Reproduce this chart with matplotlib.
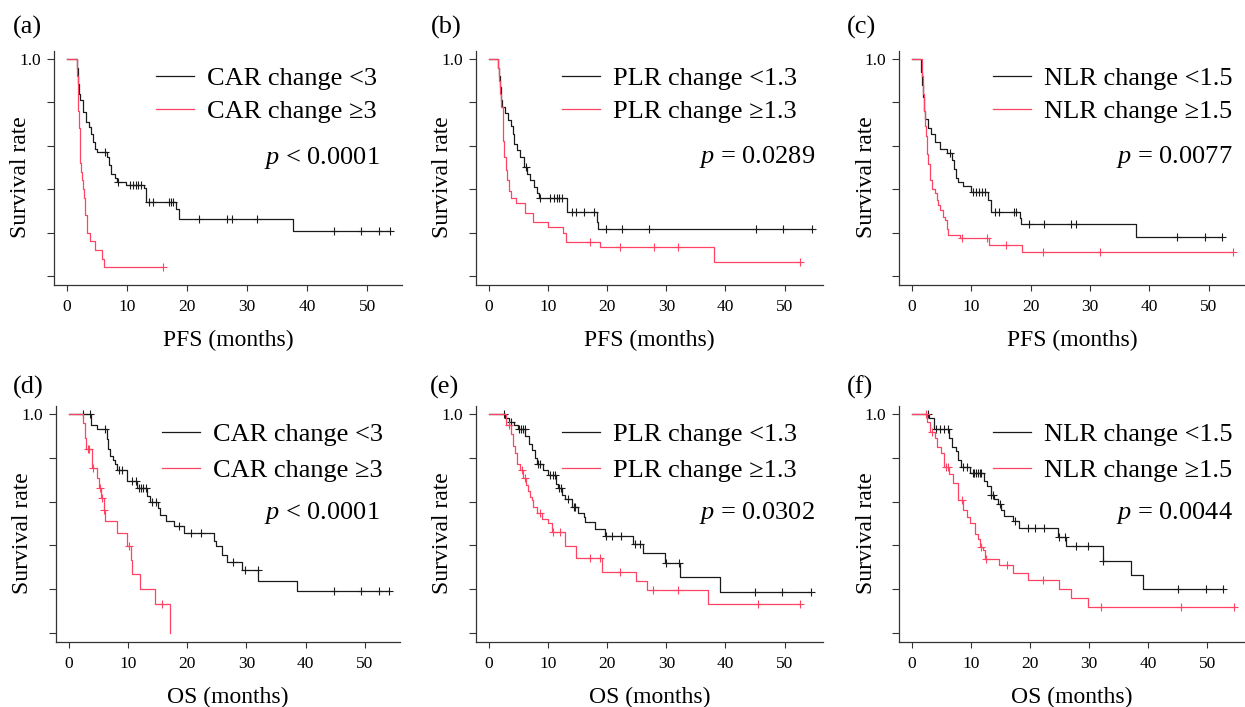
import numpy as np
import matplotlib.pyplot as plt

plt.rcParams['font.family'] = ['Liberation Serif', 'DejaVu Serif']
plt.rcParams['mathtext.fontset'] = 'custom'
plt.rcParams['mathtext.rm'] = 'Liberation Serif'
plt.rcParams['mathtext.it'] = 'Liberation Serif:italic'

# ---- (a) CAR change, PFS ----
a_lo_t = [0, 1.6, 1.8, 2.0, 2.2, 2.6, 3.2, 3.7, 4.0, 4.3, 4.7, 5.0, 6.7, 7.0, 7.4, 8.0, 8.4, 9.9, 12.9, 13.2, 18.1, 18.7, 37.6]
a_lo_s = [1.0, 0.96, 0.886, 0.84, 0.81, 0.756, 0.71, 0.687, 0.656, 0.618, 0.587, 0.572, 0.55, 0.51, 0.472, 0.45, 0.434, 0.42, 0.405, 0.342, 0.31, 0.262, 0.209]
a_lo_c = [6.3, 8.5, 10.5, 11.0, 11.5, 11.9, 12.3, 13.7, 14.4, 17.0, 17.4, 17.7, 22.0, 26.7, 27.5, 31.6, 44.4, 49.0, 51.9, 53.8]
a_hi_t = [0, 1.7, 1.8, 1.9, 2.0, 2.1, 2.2, 2.35, 2.5, 2.65, 2.8, 3.0, 3.3, 3.8, 4.6, 5.8, 6.1]
a_hi_s = [1.0, 0.92, 0.84, 0.76, 0.68, 0.6, 0.52, 0.48, 0.44, 0.40, 0.36, 0.28, 0.20, 0.16, 0.12, 0.08, 0.04]
a_hi_c = [16.0]

# ---- (b) PLR change, PFS ----
b_lo_t = [0, 1.6, 1.75, 1.9, 2.0, 2.2, 2.7, 3.2, 3.7, 4.0, 4.2, 4.8, 5.2, 6.0, 6.5, 7.0, 7.6, 8.1, 8.5, 13.2, 18.2, 18.5]
b_lo_s = [1.0, 0.96, 0.92, 0.87, 0.81, 0.78, 0.75, 0.72, 0.69, 0.655, 0.61, 0.58, 0.55, 0.50, 0.47, 0.44, 0.41, 0.38, 0.357, 0.295, 0.25, 0.214]
b_lo_c = [6.3, 8.6, 10.4, 11.0, 11.5, 11.9, 12.4, 14.0, 14.7, 16.1, 17.7, 19.8, 22.5, 27.0, 45.1, 49.8, 54.6]
b_hi_t = [0, 1.5, 1.7, 1.9, 2.1, 2.3, 2.45, 2.6, 2.8, 3.0, 3.3, 3.8, 4.6, 6.1, 7.5, 10.0, 12.5, 13.1, 18.8, 38.0]
b_hi_s = [1.0, 0.96, 0.90, 0.84, 0.78, 0.70, 0.62, 0.55, 0.49, 0.44, 0.39, 0.358, 0.335, 0.29, 0.25, 0.224, 0.20, 0.158, 0.132, 0.066]
b_hi_c = [17.1, 22.2, 27.9, 31.9, 52.6]

# ---- (c) NLR change, PFS ----
c_lo_t = [0, 1.5, 1.7, 1.9, 2.1, 2.3, 2.8, 3.3, 3.9, 4.7, 6.0, 6.8, 7.2, 7.5, 7.8, 8.6, 10.0, 12.8, 13.4, 18.2, 18.4, 37.7]
c_lo_s = [1.0, 0.94, 0.88, 0.824, 0.76, 0.724, 0.68, 0.655, 0.617, 0.587, 0.567, 0.533, 0.495, 0.45, 0.433, 0.415, 0.387, 0.35, 0.296, 0.265, 0.237, 0.178]
c_lo_c = [6.4, 10.4, 10.9, 11.4, 11.8, 12.3, 14.1, 14.7, 17.2, 17.6, 19.7, 22.3, 26.8, 27.7, 44.7, 49.3, 52.2]
c_hi_t = [0, 1.7, 1.9, 2.05, 2.2, 2.35, 2.5, 2.65, 2.8, 3.0, 3.1, 3.35, 3.9, 4.2, 4.5, 4.75, 5.3, 5.6, 5.9, 6.15, 8.1, 13.0, 18.6]
c_hi_s = [1.0, 0.92, 0.84, 0.76, 0.69, 0.645, 0.6, 0.56, 0.517, 0.48, 0.44, 0.40, 0.38, 0.35, 0.326, 0.303, 0.273, 0.257, 0.218, 0.188, 0.173, 0.142, 0.109]
c_hi_c = [8.5, 12.6, 15.9, 22.1, 31.7, 54.0]

# ---- (d) CAR change, OS ----
d_lo_t = [0, 3.7, 4.8, 6.4, 6.6, 7.0, 7.5, 7.9, 8.2, 9.9, 11.6, 13.3, 13.8, 15.0, 15.5, 16.4, 17.8, 19.5, 24.5, 24.8, 25.8, 26.8, 29.2, 32.0, 38.6]
d_lo_s = [1.0, 0.95, 0.93, 0.885, 0.84, 0.81, 0.79, 0.77, 0.745, 0.694, 0.663, 0.625, 0.60, 0.57, 0.54, 0.51, 0.487, 0.456, 0.42, 0.395, 0.357, 0.326, 0.288, 0.239, 0.19]
d_lo_c = [2.5, 3.6, 6.2, 8.5, 9.0, 10.7, 11.3, 11.9, 12.2, 12.5, 13.0, 14.1, 14.7, 18.6, 20.6, 22.3, 27.7, 29.7, 31.9, 44.8, 49.4, 52.3, 54.1]
d_hi_t = [0, 2.5, 2.8, 3.0, 3.9, 4.8, 5.2, 5.4, 5.9, 6.2, 8.1, 9.9, 10.5, 10.7, 12.0, 14.6, 17.1]
d_hi_s = [1.0, 0.96, 0.89, 0.84, 0.755, 0.71, 0.663, 0.617, 0.563, 0.51, 0.456, 0.395, 0.334, 0.27, 0.20, 0.132, 0.0]
d_hi_c = [3.2, 3.5, 4.2, 5.3, 5.6, 6.0, 10.2, 15.7]

# ---- (e) PLR change, OS ----
e_lo_t = [0, 2.7, 3.3, 4.2, 4.9, 6.1, 6.7, 7.2, 7.8, 8.1, 9.2, 10.0, 11.4, 11.7, 12.3, 12.9, 14.0, 15.1, 16.0, 16.2, 17.9, 19.6, 24.4, 26.1, 29.7, 32.3, 39.1]
e_lo_s = [1.0, 0.98, 0.965, 0.95, 0.934, 0.90, 0.865, 0.835, 0.80, 0.773, 0.743, 0.72, 0.68, 0.66, 0.628, 0.61, 0.574, 0.55, 0.528, 0.505, 0.475, 0.444, 0.406, 0.363, 0.318, 0.256, 0.188]
e_lo_c = [2.6, 3.8, 5.0, 5.4, 5.8, 6.05, 8.3, 8.6, 10.3, 10.9, 11.2, 11.9, 12.1, 13.4, 14.3, 14.6, 19.8, 20.8, 22.3, 24.7, 25.6, 29.9, 32.2, 45.0, 49.6, 54.5]
e_hi_t = [0, 2.8, 3.8, 4.0, 4.4, 4.7, 5.2, 5.8, 6.3, 6.6, 6.9, 7.2, 7.5, 8.1, 9.0, 10.0, 10.6, 12.9, 14.8, 19.1, 24.8, 26.8, 37.1]
e_hi_s = [1.0, 0.95, 0.91, 0.855, 0.82, 0.773, 0.743, 0.71, 0.674, 0.65, 0.62, 0.605, 0.574, 0.55, 0.52, 0.50, 0.46, 0.398, 0.34, 0.276, 0.237, 0.195, 0.133]
e_hi_c = [3.4, 5.5, 6.1, 8.6, 10.8, 12.0, 17.1, 18.8, 22.2, 27.8, 31.9, 45.5, 52.6]

# ---- (f) NLR change, OS ----
f_lo_t = [0, 3.0, 3.7, 6.3, 6.8, 7.5, 7.9, 8.3, 9.9, 12.3, 12.8, 13.4, 14.0, 14.6, 15.1, 15.7, 17.1, 18.2, 24.7, 26.1, 32.3, 37.1, 39.1]
f_lo_s = [1.0, 0.98, 0.93, 0.89, 0.85, 0.83, 0.79, 0.76, 0.73, 0.694, 0.67, 0.632, 0.61, 0.587, 0.563, 0.533, 0.51, 0.479, 0.44, 0.395, 0.33, 0.265, 0.2]
f_lo_c = [2.8, 4.2, 4.8, 5.4, 6.2, 8.7, 9.3, 10.3, 10.6, 10.9, 11.2, 11.5, 11.8, 13.5, 13.8, 15.0, 17.5, 19.7, 20.8, 22.4, 25.0, 26.0, 27.8, 29.8, 32.3, 45.1, 49.8, 52.7]
f_hi_t = [0, 2.6, 3.1, 3.9, 4.3, 5.0, 5.4, 6.4, 7.0, 7.9, 8.7, 9.3, 9.9, 10.7, 11.3, 11.6, 12.1, 12.4, 14.7, 17.1, 19.7, 25.0, 26.9, 29.8]
f_hi_s = [1.0, 0.965, 0.92, 0.89, 0.85, 0.82, 0.76, 0.728, 0.683, 0.606, 0.56, 0.53, 0.50, 0.453, 0.43, 0.392, 0.377, 0.339, 0.308, 0.273, 0.24, 0.20, 0.16, 0.12]
f_hi_c = [2.5, 3.4, 5.8, 6.2, 8.5, 11.8, 12.5, 16.1, 22.3, 32.0, 45.5, 54.5]

panel_tags = ['(a)', '(b)', '(c)', '(d)', '(e)', '(f)']
lo_labels = ['CAR change <3', 'PLR change <1.3', 'NLR change <1.5'] * 2
hi_labels = ['CAR change \u22653', 'PLR change \u22651.3', 'NLR change \u22651.5'] * 2
p_texts = ['< 0.0001', '= 0.0289', '= 0.0077', '< 0.0001', '= 0.0302', '= 0.0044']
x_labels = ['PFS (months)'] * 3 + ['OS (months)'] * 3

curves = [
    (a_lo_t, a_lo_s, a_lo_c, a_hi_t, a_hi_s, a_hi_c),
    (b_lo_t, b_lo_s, b_lo_c, b_hi_t, b_hi_s, b_hi_c),
    (c_lo_t, c_lo_s, c_lo_c, c_hi_t, c_hi_s, c_hi_c),
    (d_lo_t, d_lo_s, d_lo_c, d_hi_t, d_hi_s, d_hi_c),
    (e_lo_t, e_lo_s, e_lo_c, e_hi_t, e_hi_s, e_hi_c),
    (f_lo_t, f_lo_s, f_lo_c, f_hi_t, f_hi_s, f_hi_c),
]

BLACK = '#1a1a1a'
RED = '#ff4463'
W, H = 1245, 707

# layout in pixels: (left, right, top, bottom) of each plot frame
frames = [(54, 402, 51, 285), (476, 823, 51, 285), (899, 1245, 51, 285),
          (56, 400, 406, 642), (476, 823, 406, 642), (899, 1245, 406, 642)]
xlims = [(-2.17, 55.8), (-2.2, 56.5), (-2.14, 56.1),
         (-2.12, 55.9), (-2.2, 56.5), (-2.14, 56.4)]
tag_pos = [(13, 27), (431, 27), (847, 27), (13, 387), (430, 387), (847, 387)]
leg_x = [0.293, 0.247, 0.272, 0.308, 0.247, 0.272]
p_pos = [(0.937, 0.543), (0.977, 0.547), (0.965, 0.547),
         (0.942, 0.547), (0.977, 0.547), (0.965, 0.547)]


def draw_km(ax, t, s, cens, color):
    t = np.asarray(t, dtype=float)
    s = np.asarray(s, dtype=float)
    cens = np.asarray(cens, dtype=float)
    end = max(t[-1], cens.max())
    line, = ax.step(np.append(t, end), np.append(s, s[-1]), where='post',
                    color=color, lw=0.9)
    idx = np.searchsorted(t, cens, side='right') - 1
    ax.plot(cens, s[idx], '+', color=color, ms=5.5, mew=0.8)
    return line


fig = plt.figure(figsize=(W / 100, H / 100), dpi=100)

for i in range(6):
    l, r, tp, bt = frames[i]
    ax = fig.add_axes([l / W, 1 - bt / H, (r - l) / W, (bt - tp) / H])
    lo_t, lo_s, lo_c, hi_t, hi_s, hi_c = curves[i]
    h1 = draw_km(ax, lo_t, lo_s, lo_c, BLACK)
    h2 = draw_km(ax, hi_t, hi_s, hi_c, RED)

    ax.set_xlim(*xlims[i])
    ax.set_ylim(-0.042, 1.037)
    ax.set_xticks([0, 10, 20, 30, 40, 50])
    ax.set_yticks([0, 0.2, 0.4, 0.6, 0.8, 1.0])
    ax.set_yticklabels(['', '', '', '', '', '1.0'])
    ax.tick_params(axis='x', direction='out', length=4, width=0.8,
                   labelsize=12.5, pad=6, colors='#333333', labelcolor='black')
    ax.tick_params(axis='y', direction='out', length=5, width=0.8,
                   labelsize=12.5, pad=4, colors='#333333', labelcolor='black')
    for side in ['top', 'right']:
        ax.spines[side].set_visible(False)
    for side in ['left', 'bottom']:
        ax.spines[side].set_color('#333333')
        ax.spines[side].set_linewidth(0.9)

    ax.set_xlabel(x_labels[i], fontsize=17)
    ax.xaxis.set_label_coords(0.5, -55 / (bt - tp))
    ax.xaxis.label.set_va('center')
    ax.set_ylabel('Survival rate', fontsize=17)
    ax.yaxis.set_label_coords(-33 / (r - l), 0.46)
    ax.yaxis.label.set_va('center')

    spacing = 0.37 if i < 3 else 0.47
    top = 0.933 if i < 3 else 0.929
    ax.legend([h1, h2], [lo_labels[i], hi_labels[i]], loc='upper left',
              bbox_to_anchor=(leg_x[i], top), frameon=False, fontsize=19,
              handlelength=1.44, handletextpad=0.5, borderpad=0,
              borderaxespad=0, labelspacing=spacing)
    ax.text(p_pos[i][0], p_pos[i][1], '$p$ ' + p_texts[i], transform=ax.transAxes,
            ha='right', va='center', fontsize=19)

    fig.text(tag_pos[i][0] / W, 1 - tag_pos[i][1] / H, panel_tags[i],
             ha='left', va='center', fontsize=19)

fig.savefig('out.png', dpi=100)
